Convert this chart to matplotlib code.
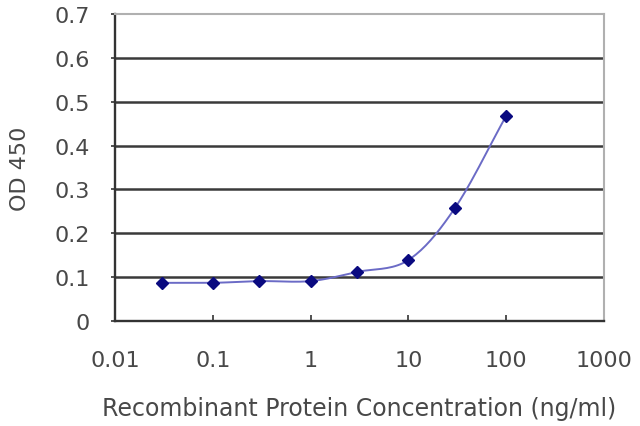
import numpy as np
import matplotlib
matplotlib.use('Agg')
import matplotlib.pyplot as plt

# data
conc = [0.03, 0.1, 0.3, 1, 3, 10, 30, 100]
od = [0.087, 0.087, 0.091, 0.091, 0.112, 0.139, 0.258, 0.468]
xticks = [0.01, 0.1, 1, 10, 100, 1000]
xtick_labels = ['0.01', '0.1', '1', '10', '100', '1000']
yticks = [0, 0.1, 0.2, 0.3, 0.4, 0.5, 0.6, 0.7]
ytick_labels = ['0', '0.1', '0.2', '0.3', '0.4', '0.5', '0.6', '0.7']


def smooth(xs, ys, n=20):
    # Catmull-Rom through the points in log-x space (like the Excel smoothed line)
    lx = np.log10(xs)
    y = np.asarray(ys, float)
    px = np.concatenate([[2 * lx[0] - lx[1]], lx, [2 * lx[-1] - lx[-2]]])
    py = np.concatenate([[2 * y[0] - y[1]], y, [2 * y[-1] - y[-2]]])
    outx, outy = [], []
    t = np.linspace(0, 1, n)
    for i in range(1, len(px) - 2):
        for arr, out in ((px, outx), (py, outy)):
            p0, p1, p2, p3 = arr[i - 1], arr[i], arr[i + 1], arr[i + 2]
            out.extend(0.5 * (2 * p1 + (-p0 + p2) * t
                              + (2 * p0 - 5 * p1 + 4 * p2 - p3) * t ** 2
                              + (-p0 + 3 * p1 - 3 * p2 + p3) * t ** 3))
    return 10 ** np.array(outx), np.array(outy)


plt.rcParams['font.family'] = ['DejaVu Sans']
text_col = '#484848'
fs = 16

fig = plt.figure(figsize=(6.4, 4.27), dpi=100)
ax = fig.add_axes([115 / 640, 1 - 322 / 427, 489 / 640, 307 / 427])

ax.set_xscale('log')
ax.set_xlim(0.01, 1000)
ax.set_ylim(0, 0.7)

for yv in yticks[1:-1]:
    ax.axhline(yv, color='#3a3a3a', lw=1.8, zorder=1)

sx, sy = smooth(conc, od)
ax.plot(sx, sy, color='#6b6bc6', lw=1.4, zorder=2)
ax.plot(conc, od, linestyle='none', marker='D', ms=6.5, color='#0a0a80', zorder=3)

ax.set_xticks(xticks)
ax.set_xticklabels(xtick_labels)
ax.xaxis.set_minor_locator(matplotlib.ticker.NullLocator())
ax.set_yticks(yticks)
ax.set_yticklabels(ytick_labels)
ax.tick_params(axis='x', direction='in', length=4, width=1.2, colors='#333333',
               labelcolor=text_col, labelsize=fs, pad=21)
ax.tick_params(axis='y', direction='out', length=3, width=1.2, colors='#333333',
               labelcolor=text_col, labelsize=fs, pad=15)

for side in ['left', 'bottom']:
    ax.spines[side].set_color('#333333')
    ax.spines[side].set_linewidth(1.7)
for side in ['top', 'right']:
    ax.spines[side].set_color('#b0b0b0')
    ax.spines[side].set_linewidth(1.5)

ax.set_xlabel('Recombinant Protein Concentration (ng/ml)', fontsize=17,
              color=text_col)
ax.xaxis.set_label_coords(0.5, -0.245)
ax.set_ylabel('OD 450', fontsize=fs, color=text_col, va='center')
ax.yaxis.set_label_coords(-0.195, 0.5)

fig.savefig('out.png', dpi=100)
